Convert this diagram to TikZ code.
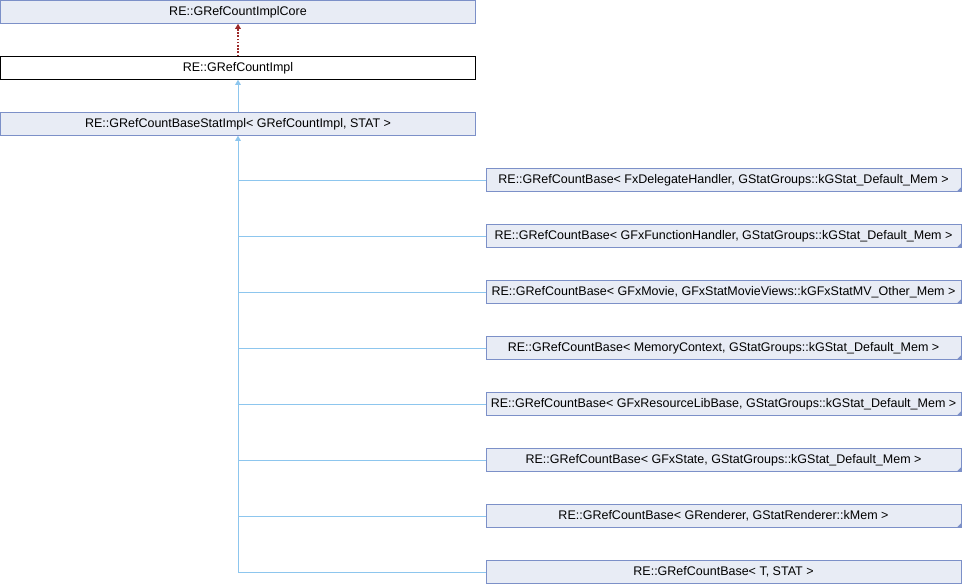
\documentclass[tikz,border=0pt]{standalone}
\usepackage{fontspec}
\setmainfont{Liberation Sans}
\usetikzlibrary{arrows.meta}
\definecolor{boxfill}{HTML}{E8ECF5}
\definecolor{boxline}{HTML}{7C90C8}
\definecolor{inhline}{HTML}{8DC6EE}
\definecolor{usered}{HTML}{9C2A2A}
\tikzset{
  cls/.style={draw=boxline, fill=boxfill, line width=1pt, minimum width=475pt, minimum height=22.5pt, inner sep=0pt, text height=9pt, text depth=2.5pt, font=\fontsize{12.5}{14}\selectfont},
  curcls/.style={cls, draw=black, fill=white},
  inh/.style={draw=inhline, line width=1pt},
  inharrow/.style={inh, -{Triangle[length=5pt,width=5.5pt]}},
  usedot/.style={draw=usered, line width=1.3pt, dash pattern=on 1.6pt off 1.6pt, -{Triangle[length=5pt,width=5.5pt,fill=usered]}},
  cornermark/.style={fill=boxline}
}
\begin{document}
\begin{tikzpicture}[x=1pt,y=-1pt]
\useasboundingbox (0,0) rectangle (962,584);
\node[cls] (core) at (238,12) {RE::GRefCountImplCore};
\node[curcls] (impl) at (238,68) {RE::GRefCountImpl};
\node[cls] (stat) at (238,124) {RE::GRefCountBaseStatImpl< GRefCountImpl, STAT >};
\node[cls] (c1) at (723.5,180) {RE::GRefCountBase< FxDelegateHandler, GStatGroups::kGStat\_Default\_Mem >};
\node[cls] (c2) at (723.5,236) {RE::GRefCountBase< GFxFunctionHandler, GStatGroups::kGStat\_Default\_Mem >};
\node[cls] (c3) at (723.5,292) {RE::GRefCountBase< GFxMovie, GFxStatMovieViews::kGFxStatMV\_Other\_Mem >};
\node[cls] (c4) at (723.5,348) {RE::GRefCountBase< MemoryContext, GStatGroups::kGStat\_Default\_Mem >};
\node[cls] (c5) at (723.5,404) {RE::GRefCountBase< GFxResourceLibBase, GStatGroups::kGStat\_Default\_Mem >};
\node[cls] (c6) at (723.5,460) {RE::GRefCountBase< GFxState, GStatGroups::kGStat\_Default\_Mem >};
\node[cls] (c7) at (723.5,516) {RE::GRefCountBase< GRenderer, GStatRenderer::kMem >};
\node[cls] (c8) at (723.5,572) {RE::GRefCountBase< T, STAT >};
\foreach \n in {c1,c2,c3,c4,c5,c6,c7}{
  \fill[cornermark] (\n.south east) -- ++(-5,0) -- ++(5,-5) -- cycle;
}
\draw[usedot] (impl.north) -- (core.south);
\draw[inharrow] (stat.north) -- (impl.south);
\foreach \n in {c1,c2,c3,c4,c5,c6,c7}{
  \draw[inh] (\n.west) -- (stat.south |- \n.west);
}
\draw[inharrow] (c8.west) -| (stat.south);
\end{tikzpicture}
\end{document}
